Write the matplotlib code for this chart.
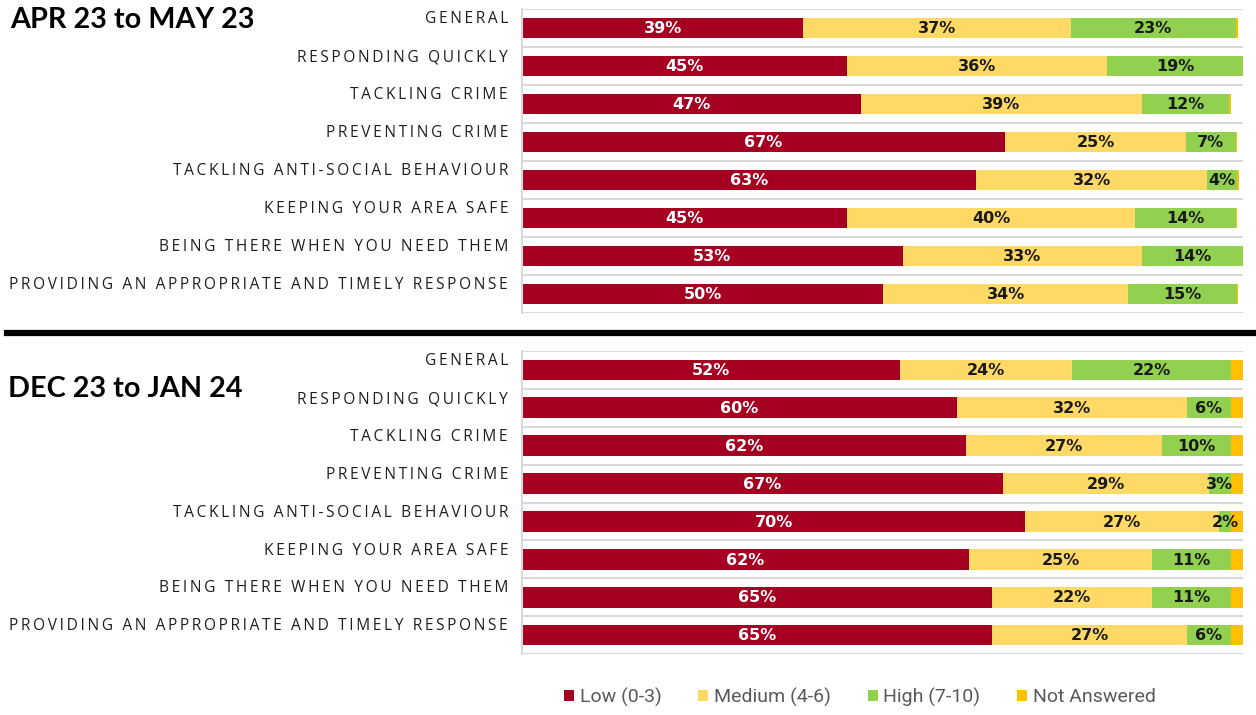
import matplotlib
matplotlib.use("Agg")
import matplotlib.pyplot as plt
from matplotlib.patches import Patch
from matplotlib.lines import Line2D
import numpy as np

categories = ["GENERAL", "RESPONDING QUICKLY", "TACKLING CRIME", "PREVENTING CRIME",
              "TACKLING ANTI-SOCIAL BEHAVIOUR", "KEEPING YOUR AREA SAFE",
              "BEING THERE WHEN YOU NEED THEM", "PROVIDING AN APPROPRIATE AND TIMELY RESPONSE"]
series = ["Low (0-3)", "Medium (4-6)", "High (7-10)", "Not Answered"]
colors = ["#A50021", "#FFD966", "#92D050", "#FFC000"]

# APR 23 to MAY 23
low_1 = [39.0, 45.1, 47.0, 67.0, 63.0, 45.1, 52.8, 50.1]
med_1 = [37.1, 36.0, 39.0, 25.1, 32.0, 39.9, 33.2, 34.0]
high_1 = [22.9, 18.9, 12.1, 6.9, 4.2, 14.0, 14.0, 15.0]
na_1 = [0.3, 0.2, 0.2, 0.2, 0.2, 0.2, 0.2, 0.2]

# DEC 23 to JAN 24
low_2 = [52.4, 60.3, 61.6, 66.7, 69.8, 62.0, 65.2, 65.2]
med_2 = [23.9, 31.9, 27.1, 28.6, 26.9, 25.4, 22.2, 27.0]
high_2 = [22.0, 6.1, 9.6, 3.0, 1.6, 10.9, 10.9, 6.1]
na_2 = [1.7, 1.7, 1.7, 1.7, 1.7, 1.7, 1.7, 1.7]

W, H = 1256, 715
fig = plt.figure(figsize=(W / 100, H / 100), dpi=100)

THIN = "\u2009"


def spaced(s):
    return THIN.join(s)


def panel(top_px, bottom_px, data):
    ax = fig.add_axes([522 / W, 1 - bottom_px / H, (1243 - 522) / W, (bottom_px - top_px) / H])
    n = len(categories)
    y = np.arange(n) + 0.5
    left = np.zeros(n)
    for k, vals in enumerate(data):
        vals = np.array(vals)
        ax.barh(y, vals, left=left, height=0.55, color=colors[k], edgecolor="none", zorder=2)
        if k < 3:
            tc = "white" if k == 0 else "#1a1a1a"
            for i in range(n):
                ax.text(left[i] + vals[i] / 2, y[i] + 0.02, f"{vals[i]:.0f}%", ha="center", va="center",
                        color=tc, fontsize=11.5, fontweight="bold", family="DejaVu Sans", zorder=3)
        left = left + vals
    for b in range(n + 1):
        ax.axhline(b, color="#d9d9d9", lw=1.5, zorder=1)
    ax.set_xlim(0, 100)
    ax.set_ylim(n, 0)
    ax.set_xticks([])
    ax.set_yticks([])
    for s in ["top", "right", "bottom"]:
        ax.spines[s].set_visible(False)
    ax.spines["left"].set_color("#d9d9d9")
    ax.spines["left"].set_linewidth(1.5)
    for i, c in enumerate(categories):
        ax.text(-14 / 721 * 100, i + 0.27, spaced(c), ha="right", va="center",
                fontsize=11.2, color="#1f1f1f", family=["Open Sans", "DejaVu Sans"])
    return ax


panel(9, 313, [low_1, med_1, high_1, na_1])
panel(351, 654, [low_2, med_2, high_2, na_2])

fig.text(10 / W, 1 - 20 / H, "APR 23 to MAY 23", fontsize=20.7, fontweight="bold",
         family="Lato", va="center", ha="left")
fig.text(8 / W, 1 - 389 / H, "DEC 23 to JAN 24", fontsize=20.7, fontweight="bold",
         family="Lato", va="center", ha="left")

fig.add_artist(Line2D([7 / W, 1], [1 - 333 / H, 1 - 333 / H], color="black", lw=4.5))

handles = [Patch(facecolor=c, edgecolor="none") for c in colors]
fig.legend(handles, series, loc="center", bbox_to_anchor=(860 / W, 1 - 697 / H), ncol=4,
           frameon=False, handlelength=0.5, handleheight=0.5, handletextpad=0.3,
           columnspacing=1.9, prop={"family": "Roboto", "size": 14}, labelcolor="#595959")

fig.savefig("out.png", dpi=100)
